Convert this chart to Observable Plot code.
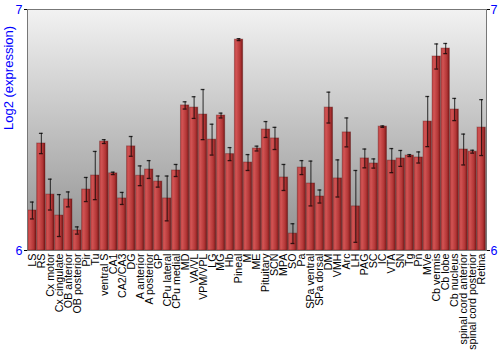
<!DOCTYPE html>
<html>
<head>
<meta charset="utf-8">
<script src="https://cdn.jsdelivr.net/npm/d3@7"></script>
<script src="https://cdn.jsdelivr.net/npm/@observablehq/plot@0.6"></script>
<style>
  html, body { margin: 0; padding: 0; background: white; }
</style>
</head>
<body>
<div id="chart"></div>
<script>
const categories = ["LS","RS","Cx motor","Cx cingulate","OB anterior","OB posterior","Pir","Tu","ventral S","CA1","CA2/CA3","DG","A anterior","A posterior","GP","CPu lateral","CPu medial","MD","VA/VL","VPM/VPL","LG","MG","Hb","Pineal","M","ME","Pituitary","SCN","MPA","SO","Pa","SPa ventral","SPa dorsal","DM","VMH","Arc","LH","PAG","SC","IC","VTA","SN","Tg","Pn","MVe","Cb vermis","Cb lobe","Cb nucleus","spinal cord anterior","spinal cord posterior","Retina"];
const values = [6.166,6.444,6.232,6.145,6.212,6.083,6.253,6.311,6.452,6.320,6.216,6.432,6.310,6.336,6.286,6.216,6.332,6.602,6.593,6.564,6.460,6.560,6.400,6.875,6.365,6.423,6.502,6.465,6.303,6.070,6.344,6.278,6.224,6.593,6.299,6.490,6.183,6.382,6.361,6.514,6.373,6.382,6.394,6.386,6.535,6.805,6.838,6.585,6.419,6.410,6.510];
const errors = [0.035,0.042,0.064,0.087,0.031,0.015,0.050,0.100,0.008,0.005,0.025,0.041,0.041,0.037,0.023,0.093,0.025,0.015,0.045,0.104,0.064,0.010,0.027,0.004,0.033,0.010,0.033,0.046,0.054,0.041,0.029,0.093,0.027,0.064,0.077,0.060,0.149,0.039,0.019,0.003,0.050,0.033,0.004,0.023,0.104,0.052,0.021,0.046,0.064,0.006,0.116];
const yTicks = [6, 7];
const yLabel = "Log2 (expression)";

const data = categories.map((c, i) => ({cat: c, v: values[i], e: errors[i]}));

const chart = Plot.plot({
  width: 500,
  height: 350,
  marginLeft: 27,
  marginRight: 14,
  marginTop: 9,
  marginBottom: 100,
  style: {fontFamily: "Liberation Sans, Arial, sans-serif", fontSize: "10.5px", background: "white"},
  x: {type: "band", domain: categories, paddingInner: 0.08, paddingOuter: 0.08},
  y: {domain: [6, 7]},
  marks: [
    Plot.frame({fill: "url(#bgGrad)"}),
    Plot.barY(data, {x: "cat", y1: 6, y2: "v", fill: "url(#barGrad)", stroke: "#5a0a0a", strokeOpacity: 0.35}),
    Plot.ruleX(data, {x: "cat", y1: d => d.v - d.e, y2: d => d.v + d.e, stroke: "black", strokeOpacity: 0.8}),
    Plot.tickY(data, {x: "cat", y: d => d.v + d.e, insetLeft: 2.2, insetRight: 2.2, stroke: "black", strokeOpacity: 0.75, strokeWidth: 1.3}),
    Plot.tickY(data, {x: "cat", y: d => d.v - d.e, insetLeft: 2.2, insetRight: 2.2, stroke: "black", strokeOpacity: 0.75, strokeWidth: 1.3}),
    Plot.frame({stroke: "#777"}),
    Plot.axisY({anchor: "left", ticks: yTicks, tickFormat: d3.format("d"), tickSize: 3, tickPadding: 2, fill: "blue", stroke: "black", fontSize: 12.5, label: null}),
    Plot.axisY({anchor: "right", ticks: yTicks, tickFormat: d3.format("d"), tickSize: 3, tickPadding: 1, fill: "blue", stroke: "black", fontSize: 12.5, label: null}),
    Plot.axisX({tickRotate: -90, tickSize: 0, tickPadding: 3, fill: "black", fontSize: 10.7, label: null}),
    Plot.text([yLabel], {frameAnchor: "left", text: d => d, rotate: -90, dx: -19, fill: "blue", fontSize: 13})
  ]
});

const svg = d3.select(chart);
const defs = svg.insert("defs", ":first-child");
const bg = defs.append("linearGradient").attr("id", "bgGrad").attr("x1", 0).attr("y1", 0).attr("x2", 0).attr("y2", 1);
bg.append("stop").attr("offset", "0%").attr("stop-color", "#f2f2f2");
bg.append("stop").attr("offset", "100%").attr("stop-color", "#8e8e8e");
const bar = defs.append("linearGradient").attr("id", "barGrad").attr("x1", 0).attr("y1", 0).attr("x2", 1).attr("y2", 0);
bar.append("stop").attr("offset", "0%").attr("stop-color", "#c24444");
bar.append("stop").attr("offset", "25%").attr("stop-color", "#d05252");
bar.append("stop").attr("offset", "70%").attr("stop-color", "#b33636");
bar.append("stop").attr("offset", "100%").attr("stop-color", "#7a1818");

document.getElementById("chart").appendChild(chart);
</script>
</body>
</html>
